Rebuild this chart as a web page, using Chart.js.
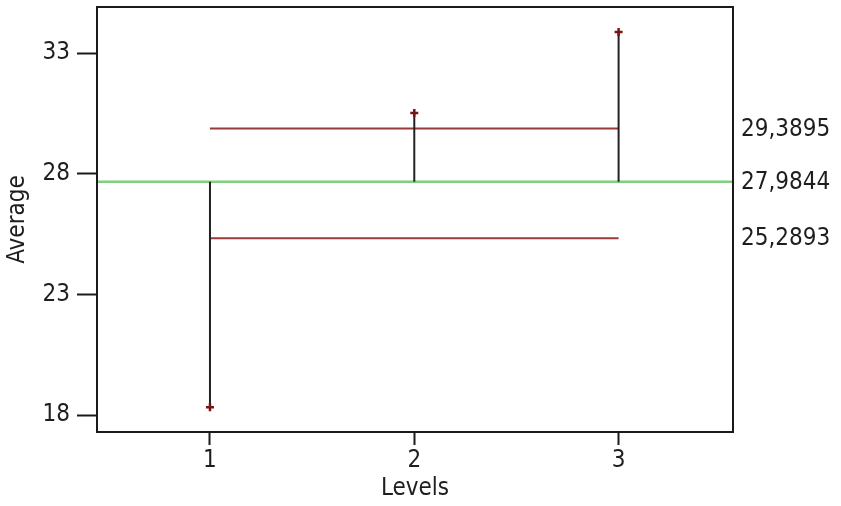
<!DOCTYPE html>
<html>
<head>
<meta charset="utf-8">
<script src="https://cdn.jsdelivr.net/npm/chart.js@4.4.1/dist/chart.umd.min.js"></script>
<style>
  html, body { margin: 0; padding: 0; background: #fff; }
  #wrap { width: 841px; height: 506px; }
</style>
</head>
<body>
<div id="wrap"><canvas id="anom"></canvas></div>
<script>
// DATA //
const levels = [1, 2, 3]
const levelMeans = [18.33, 30.52, 33.87]
const centerLine = 27.67
const upperLimit = 29.88
const lowerLimit = 25.33
const limitLabels = ['29,3895', '27,9844', '25,2893']
const yTicks = [18, 23, 28, 33]
const xTicks = [1, 2, 3]
const yRange = [17.30, 34.91]
const xRange = [0.447, 3.56]

const FONT = '"DejaVu Sans Condensed", "DejaVu Sans", sans-serif'
const TEXT = '#1e1e1e'
const LIMIT_RED = '#9a3a3a'

// stems from centre line to each mean
const stems = levels.map((lv, i) => ({
    type: 'scatter',
    data: [{ x: lv, y: centerLine }, { x: lv, y: levelMeans[i] }],
    showLine: true,
    borderColor: '#222',
    borderWidth: 2,
    pointRadius: 0,
    order: 2
}))

// PLUGIN - FRAME + LIMIT LABELS //
const anomExtras = {
    id: 'anomExtras',
    afterDatasetsDraw(chart) {
        const { ctx, chartArea: a, scales: { y } } = chart
        ctx.save()
        ctx.strokeStyle = '#1a1a1a'
        ctx.lineWidth = 2
        ctx.strokeRect(a.left, a.top, a.right - a.left, a.bottom - a.top)

        ctx.fillStyle = TEXT
        ctx.font = '24px ' + FONT
        ctx.textAlign = 'left'
        ctx.textBaseline = 'middle'
        const vals = [upperLimit, centerLine, lowerLimit]
        vals.forEach((v, i) => {
            ctx.fillText(limitLabels[i], a.right + 8, y.getPixelForValue(v) + 1)
        })
        ctx.restore()
    }
}

new Chart(document.getElementById('anom'), {
    type: 'scatter',
    data: {
        datasets: [
            {
                // centre line across the full plot
                data: [{ x: xRange[0], y: centerLine }, { x: xRange[1], y: centerLine }],
                showLine: true,
                borderColor: '#7fd07f',
                borderWidth: 2.5,
                pointRadius: 0,
                order: 3
            },
            {
                data: [{ x: levels[0], y: upperLimit }, { x: levels[levels.length - 1], y: upperLimit }],
                showLine: true,
                borderColor: LIMIT_RED,
                borderWidth: 2,
                pointRadius: 0,
                order: 3
            },
            {
                data: [{ x: levels[0], y: lowerLimit }, { x: levels[levels.length - 1], y: lowerLimit }],
                showLine: true,
                borderColor: LIMIT_RED,
                borderWidth: 2,
                pointRadius: 0,
                order: 3
            },
            ...stems,
            {
                data: levels.map((lv, i) => ({ x: lv, y: levelMeans[i] })),
                showLine: false,
                pointStyle: 'cross',
                pointRadius: 4,
                borderColor: '#7a1414',
                borderWidth: 2.5,
                order: 1
            }
        ]
    },
    options: {
        responsive: true,
        maintainAspectRatio: false,
        animation: false,
        layout: { padding: { top: 7, right: 108, left: 0, bottom: 0 } },
        plugins: {
            legend: { display: false },
            tooltip: { enabled: false }
        },
        scales: {
            x: {
                type: 'linear',
                min: xRange[0],
                max: xRange[1],
                afterBuildTicks: s => { s.ticks = xTicks.map(v => ({ value: v })) },
                afterFit: s => { s.height = 74; s.paddingLeft = 0; s.paddingRight = 0 },
                grid: {
                    drawOnChartArea: false,
                    drawTicks: true,
                    tickLength: 13,
                    tickWidth: 2,
                    tickColor: '#1a1a1a'
                },
                border: { display: false },
                ticks: {
                    color: TEXT,
                    padding: 1,
                    maxRotation: 0,
                    font: { family: FONT, size: 24 }
                },
                title: {
                    display: true,
                    text: 'Levels',
                    color: TEXT,
                    padding: { top: 0, bottom: 3 },
                    font: { family: FONT, size: 24 }
                }
            },
            y: {
                type: 'linear',
                min: yRange[0],
                max: yRange[1],
                afterBuildTicks: s => { s.ticks = yTicks.map(v => ({ value: v })) },
                afterFit: s => { s.width = 97; s.paddingTop = 0; s.paddingBottom = 0 },
                grid: {
                    drawOnChartArea: false,
                    drawTicks: true,
                    tickLength: 20,
                    tickWidth: 2,
                    tickColor: '#1a1a1a'
                },
                border: { display: false },
                ticks: {
                    color: TEXT,
                    padding: 7,
                    font: { family: FONT, size: 24 }
                },
                title: {
                    display: true,
                    text: 'Average',
                    color: TEXT,
                    padding: { top: 3, bottom: 0 },
                    font: { family: FONT, size: 24 }
                }
            }
        }
    },
    plugins: [anomExtras]
})
</script>
</body>
</html>
